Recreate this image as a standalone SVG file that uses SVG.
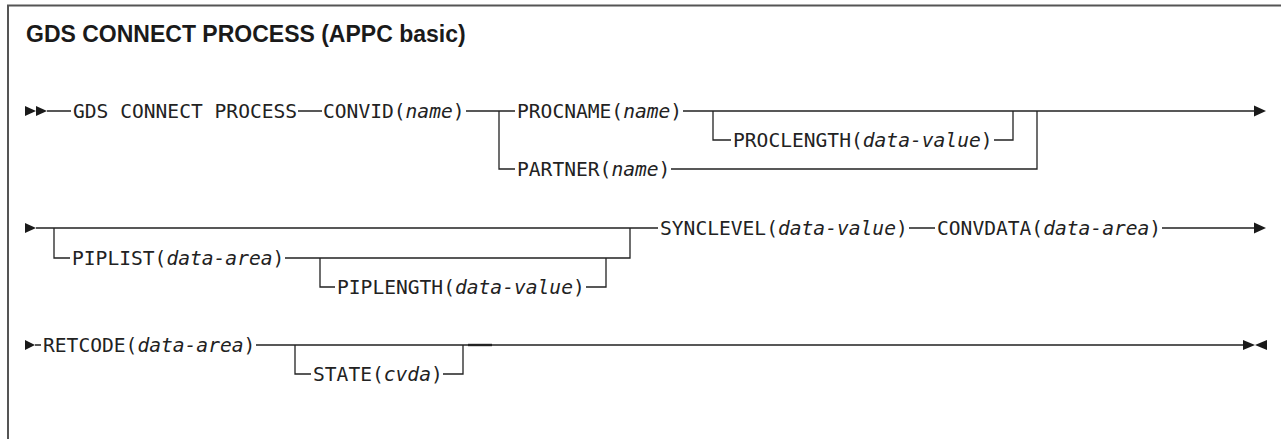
<svg xmlns="http://www.w3.org/2000/svg" width="1281" height="439" viewBox="0 0 1281 439">
<style>
.t{font-family:"DejaVu Sans Mono","Liberation Mono",monospace;font-size:19.6px;fill:#222}
.i{font-style:italic}
.title{font-family:"Liberation Sans",Arial,sans-serif;font-weight:bold;font-size:23px;fill:#1a1a1a}
.ln{fill:none;stroke:#222;stroke-width:1.3}
.ah{fill:#1a1a1a}
.frame{fill:none;stroke:#555;stroke-width:2}
</style>
<rect width="1281" height="439" fill="#fff"/>
<path class="frame" d="M8,439 V5.5 H1281"/>
<g id="title"><text class="title" x="26" y="42">GDS CONNECT PROCESS (APPC basic)</text></g>

<g id="connectors">
  <!-- row 1 -->
  <polygon class="ah" points="25,106 36,111 25,116"/>
  <polygon class="ah" points="36,106 47,111 36,116"/>
  <path class="ln" d="M47,111 H71 M298,111 H322 M466,111 H515 M499,111 V169 H515 M683,111 H1254 M713,111 V140 H731 M994,140 H1013 V111 M671,169 H1037 V111"/>
  <polygon class="ah" points="1254,105.5 1266,111 1254,116.5"/>
  <!-- row 2 -->
  <polygon class="ah" points="25,223 36,228 25,233"/>
  <path class="ln" d="M36,228 H658 M54,228 V258 H70 M285,258 H630 V228 M320,258 V287 H335 M586,287 H606 V258 M909,228 H935 M1162,228 H1254"/>
  <polygon class="ah" points="1254,222.5 1266,228 1254,233.5"/>
  <!-- row 3 -->
  <polygon class="ah" points="25,340 35,345 25,350"/>
  <path class="ln" d="M35,345 H41 M256,345 H1243 M295,345 V374 H311 M443,374 H463 V345"/>
  <path class="ln" d="M468,345 H492" style="stroke-width:2.4"/>
  <polygon class="ah" points="1243,340 1255,345 1243,350"/>
  <polygon class="ah" points="1267,340 1255,345 1267,350"/>
</g>

<g id="n-gds"><text class="t" x="73" y="118">GDS CONNECT PROCESS</text></g>
<g id="n-convid"><text class="t" x="323" y="118">CONVID(<tspan class="i">name</tspan>)</text></g>
<g id="n-procname"><text class="t" x="517" y="118">PROCNAME(<tspan class="i">name</tspan>)</text></g>
<g id="n-proclength"><text class="t" x="733" y="147">PROCLENGTH(<tspan class="i">data-value</tspan>)</text></g>
<g id="n-partner"><text class="t" x="517" y="176">PARTNER(<tspan class="i">name</tspan>)</text></g>

<g id="n-piplist"><text class="t" x="72" y="265">PIPLIST(<tspan class="i">data-area</tspan>)</text></g>
<g id="n-piplength"><text class="t" x="337" y="294">PIPLENGTH(<tspan class="i">data-value</tspan>)</text></g>
<g id="n-synclevel"><text class="t" x="660" y="235">SYNCLEVEL(<tspan class="i">data-value</tspan>)</text></g>
<g id="n-convdata"><text class="t" x="937" y="235">CONVDATA(<tspan class="i">data-area</tspan>)</text></g>

<g id="n-retcode"><text class="t" x="43" y="352">RETCODE(<tspan class="i">data-area</tspan>)</text></g>
<g id="n-state"><text class="t" x="313" y="381">STATE(<tspan class="i">cvda</tspan>)</text></g>
</svg>
